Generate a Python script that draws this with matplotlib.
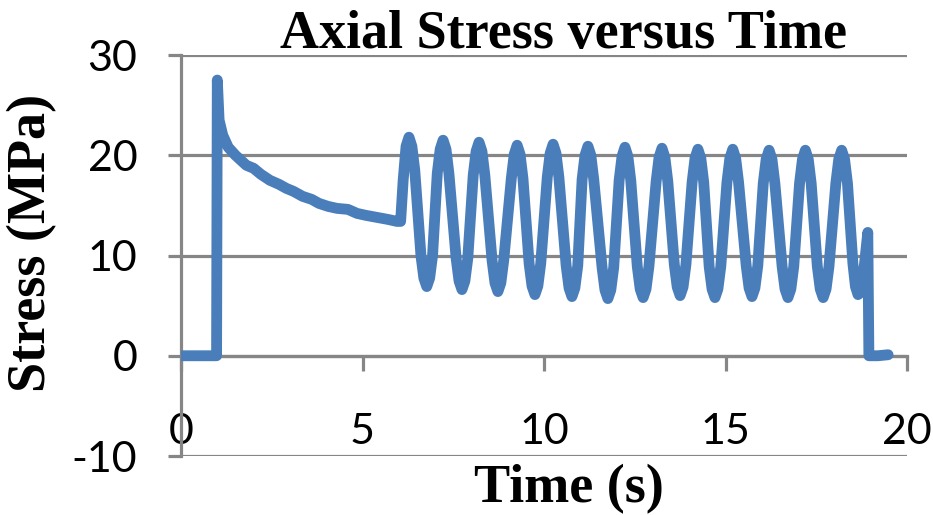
import matplotlib
matplotlib.use('Agg')
import matplotlib.pyplot as plt

# Values (time in s, stress in MPa)
time_s = [0.05, 0.5, 0.98, 1.0, 1.05, 1.15, 1.3, 1.5, 1.8, 2.0, 2.2, 2.45,
          2.7, 2.9, 3.1, 3.35, 3.6, 3.8, 4.05, 4.3, 4.6, 4.85, 5.1, 5.4,
          5.7, 5.95, 6.05,
          6.12, 6.20, 6.28, 6.36, 6.44,
          6.61, 6.69, 6.77, 6.85, 6.93,
          7.06, 7.14, 7.22, 7.30, 7.38,
          7.58, 7.66, 7.74, 7.82, 7.90,
          8.05, 8.13, 8.21, 8.29, 8.37,
          8.57, 8.65, 8.73, 8.81, 8.89,
          9.10, 9.18, 9.26, 9.34, 9.42,
          9.59, 9.67, 9.75, 9.83, 9.91,
          10.09, 10.17, 10.25, 10.33, 10.41,
          10.61, 10.69, 10.77, 10.85, 10.93,
          11.05, 11.13, 11.21, 11.29, 11.37,
          11.60, 11.68, 11.76, 11.84, 11.92,
          12.07, 12.15, 12.23, 12.31, 12.39,
          12.57, 12.65, 12.73, 12.81, 12.89,
          13.09, 13.17, 13.25, 13.33, 13.41,
          13.59, 13.67, 13.75, 13.83, 13.91,
          14.08, 14.16, 14.24, 14.32, 14.40,
          14.55, 14.63, 14.71, 14.79, 14.87,
          15.04, 15.12, 15.20, 15.28, 15.36,
          15.57, 15.65, 15.73, 15.81, 15.89,
          16.04, 16.12, 16.20, 16.28, 16.36,
          16.56, 16.64, 16.72, 16.80, 16.88,
          17.04, 17.12, 17.20, 17.28, 17.36,
          17.53, 17.61, 17.69, 17.77, 17.85,
          18.04, 18.12, 18.20, 18.28, 18.36,
          18.51, 18.58, 18.65, 18.75,
          18.92, 18.95, 19.2, 19.48]
stress_mpa = [0.0, 0.0, 0.0, 27.5, 23.5, 22.0, 20.8, 20.0, 19.0, 18.7, 18.1, 17.5,
              17.1, 16.7, 16.4, 15.9, 15.6, 15.2, 14.9, 14.7, 14.6, 14.2, 14.0, 13.8,
              13.6, 13.4, 13.4,
              17.5, 20.9, 21.8, 20.9, 18.5,
              10.0, 7.75, 6.9, 7.75, 10.0,
              18.2, 20.6, 21.5, 20.6, 18.2,
              9.7, 7.45, 6.6, 7.45, 9.7,
              18.0, 20.4, 21.3, 20.4, 18.0,
              9.5, 7.25, 6.4, 7.25, 9.5,
              17.7, 20.1, 21.0, 20.1, 17.7,
              9.2, 6.95, 6.1, 6.95, 9.2,
              17.8, 20.2, 21.1, 20.2, 17.8,
              9.0, 6.75, 5.9, 6.75, 9.0,
              17.6, 20.0, 20.9, 20.0, 17.6,
              8.8, 6.55, 5.7, 6.55, 8.8,
              17.5, 19.9, 20.8, 19.9, 17.5,
              8.9, 6.65, 5.8, 6.65, 8.9,
              17.4, 19.8, 20.7, 19.8, 17.4,
              9.1, 6.85, 6.0, 6.85, 9.1,
              17.3, 19.7, 20.6, 19.7, 17.3,
              8.9, 6.65, 5.8, 6.65, 8.9,
              17.3, 19.7, 20.6, 19.7, 17.3,
              9.0, 6.75, 5.9, 6.75, 9.0,
              17.2, 19.6, 20.5, 19.6, 17.2,
              8.9, 6.65, 5.8, 6.65, 8.9,
              17.2, 19.6, 20.5, 19.6, 17.2,
              8.9, 6.65, 5.8, 6.65, 8.9,
              17.2, 19.6, 20.5, 19.6, 17.2,
              9.2, 6.9, 6.1, 6.4,
              12.3, 0.0, 0.0, 0.1]

x_ticks = [0, 5, 10, 15, 20]
y_ticks = [-10, 0, 10, 20, 30]

GRID = '#868686'
BLUE = '#4A7EBB'

fig = plt.figure(figsize=(9.33, 5.15), dpi=100)
ax = fig.add_axes([181/933, 59/515, 726/933, 401/515])

ax.plot(time_s, stress_mpa, color=BLUE, lw=7.8,
        solid_joinstyle='round', solid_capstyle='round', zorder=3)

ax.set_xlim(0, 20)
ax.set_ylim(-10, 30)
ax.set_xticks(x_ticks)
ax.set_yticks(y_ticks)
ax.set_yticklabels([str(v) for v in y_ticks])
ax.set_xticklabels([str(v) for v in x_ticks])

ax.grid(axis='y', color=GRID, lw=2.3, zorder=1)
ax.set_axisbelow(True)
for side in ['top', 'right']:
    ax.spines[side].set_visible(False)
ax.spines['bottom'].set_position(('data', 0))
ax.spines['bottom'].set_color(GRID)
ax.spines['bottom'].set_linewidth(2.3)
ax.spines['left'].set_color(GRID)
ax.spines['left'].set_linewidth(2.3)
ax.spines['left'].set_bounds(-10, 30)

ax.tick_params(axis='y', direction='out', length=9.5, width=2.3, color=GRID,
               pad=22)
ax.tick_params(axis='x', direction='out', length=11, width=2.3, color=GRID,
               pad=30)
for lab in ax.get_xticklabels() + ax.get_yticklabels():
    lab.set_fontfamily('Lato')
    lab.set_fontsize(31)

serif = dict(family='Liberation Serif', weight='bold', size=39)
fig.text(564/933, (515-48)/515, 'Axial Stress versus Time', ha='center',
         va='baseline', **serif)
fig.text(569/933, (515-502)/515, 'Time (s)', ha='center', va='baseline',
         **serif)
fig.text(32/933, (515-243)/515, 'Stress (MPa)', ha='center', va='center',
         rotation=90, **serif)

fig.savefig('out.png', dpi=100)
